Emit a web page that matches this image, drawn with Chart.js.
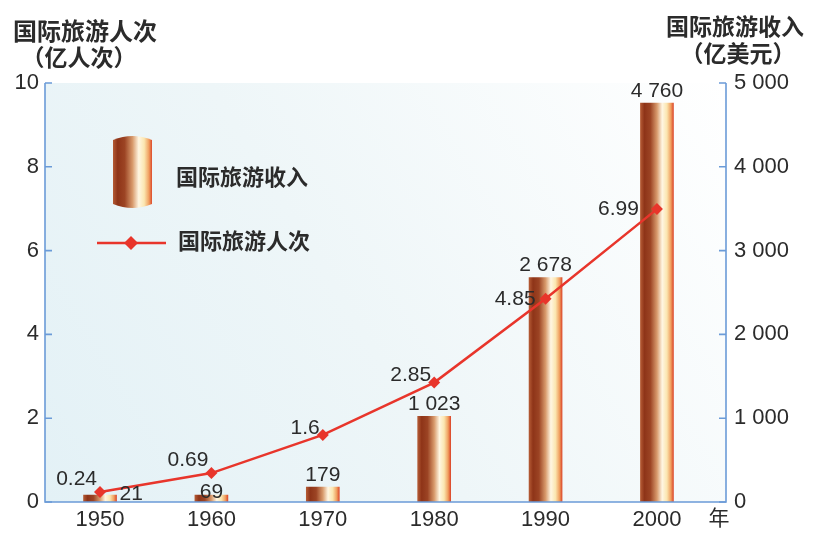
<!DOCTYPE html>
<html>
<head>
<meta charset="utf-8">
<script src="https://cdn.jsdelivr.net/npm/chart.js@4/dist/chart.umd.min.js"></script>
<style>
  html, body { margin: 0; padding: 0; background: #ffffff; }
  #wrap { width: 815px; height: 534px; position: relative; }
</style>
</head>
<body>
<div id="wrap"><canvas id="c" width="815" height="534"></canvas></div>
<script>
// ---- data ----
const years = [1950, 1960, 1970, 1980, 1990, 2000];
const revenue = [21, 69, 179, 1023, 2678, 4760];          // 亿美元
const revenueLabels = ['21', '69', '179', '1 023', '2 678', '4 760'];
const visitors = [0.24, 0.69, 1.6, 2.85, 4.85, 6.99];      // 亿人次
const visitorLabels = ['0.24', '0.69', '1.6', '2.85', '4.85', '6.99'];
const leftTicks = [0, 2, 4, 6, 8, 10];
const rightTicks = [0, 1000, 2000, 3000, 4000, 5000];
const rightTickLabels = ['0', '1 000', '2 000', '3 000', '4 000', '5 000'];
const leftTitle = ['国际旅游人次', '（亿人次）'];
const rightTitle = ['国际旅游收入', '（亿美元）'];
const seriesNames = ['国际旅游收入', '国际旅游人次'];
const xUnit = '年';

const AXIS = '#6b9bd8';
const TXT = '#2b2b2b';
const NUMFONT = '"Liberation Sans", Arial, sans-serif';
const CJKFONT = '"Noto Sans CJK SC", sans-serif';

function copperGradient(ctx, x0, x1) {
  const g = ctx.createLinearGradient(x0, 0, x1, 0);
  g.addColorStop(0.00, '#b45a34');
  g.addColorStop(0.12, '#8e3418');
  g.addColorStop(0.30, '#9c4424');
  g.addColorStop(0.50, '#d89a6c');
  g.addColorStop(0.66, '#fff6e2');
  g.addColorStop(0.80, '#fbe6b0');
  g.addColorStop(0.92, '#f0a060');
  g.addColorStop(1.00, '#dc4a2c');
  return g;
}

const decor = {
  id: 'decor',
  beforeDraw(chart) {
    const { ctx, chartArea: a } = chart;
    ctx.save();
    const g = ctx.createLinearGradient(a.left, a.bottom, a.right, a.top);
    g.addColorStop(0, '#e3f1f6');
    g.addColorStop(0.45, '#eef6f8');
    g.addColorStop(1, '#ffffff');
    ctx.fillStyle = g;
    ctx.fillRect(a.left, a.top, a.right - a.left, a.bottom - a.top);
    ctx.restore();
  },
  afterDraw(chart) {
    const { ctx, chartArea: a, scales } = chart;
    ctx.save();
    // axis lines (left, bottom, right)
    ctx.strokeStyle = AXIS;
    ctx.lineWidth = 1.6;
    ctx.beginPath();
    ctx.moveTo(a.left, a.top); ctx.lineTo(a.left, a.bottom);
    ctx.lineTo(a.right, a.bottom); ctx.lineTo(a.right, a.top);
    ctx.stroke();
    // inward tick marks
    ctx.beginPath();
    leftTicks.forEach(v => {
      const y = scales.y.getPixelForValue(v);
      ctx.moveTo(a.left, y); ctx.lineTo(a.left + 7, y);
    });
    rightTicks.forEach(v => {
      const y = scales.y1.getPixelForValue(v);
      ctx.moveTo(a.right, y); ctx.lineTo(a.right - 7, y);
    });
    ctx.stroke();

    // axis titles
    ctx.fillStyle = TXT;
    ctx.font = 'bold 24px ' + CJKFONT;
    ctx.textAlign = 'center';
    ctx.textBaseline = 'middle';
    ctx.fillText(leftTitle[0], 85, 31);
    ctx.fillStyle = TXT;
    ctx.font = 'bold 23px ' + CJKFONT;
    ctx.fillText(leftTitle[1], 79, 57);
    ctx.fillText(rightTitle[0], 735, 26);
    ctx.fillText(rightTitle[1], 738, 53);
    // x unit
    ctx.font = '21px ' + CJKFONT;
    ctx.fillText(xUnit, 719, 517);

    // legend
    const lx0 = 113, lx1 = 152;
    ctx.fillStyle = copperGradient(ctx, lx0, lx1);
    ctx.beginPath();
    ctx.moveTo(lx0, 140);
    ctx.lineTo(lx0, 204);
    ctx.quadraticCurveTo((lx0 + lx1) / 2, 212, lx1, 204);
    ctx.lineTo(lx1, 140);
    ctx.quadraticCurveTo((lx0 + lx1) / 2, 132, lx0, 140);
    ctx.fill();
    ctx.fillStyle = TXT;
    ctx.font = 'bold 22px ' + CJKFONT;
    ctx.textAlign = 'left';
    ctx.fillText(seriesNames[0], 176, 177);
    ctx.strokeStyle = '#e8352b';
    ctx.lineWidth = 2.5;
    ctx.beginPath(); ctx.moveTo(97, 243); ctx.lineTo(166, 243); ctx.stroke();
    ctx.fillStyle = '#e8352b';
    ctx.beginPath();
    ctx.moveTo(131, 236); ctx.lineTo(138, 243); ctx.lineTo(131, 250); ctx.lineTo(124, 243);
    ctx.closePath(); ctx.fill();
    ctx.fillStyle = TXT;
    ctx.fillText(seriesNames[1], 178, 241);

    // value labels
    ctx.font = '21px ' + NUMFONT;
    const barMeta = chart.getDatasetMeta(0);
    barMeta.data.forEach((el, i) => {
      ctx.textBaseline = 'middle';
      if (i === 0) {
        ctx.textAlign = 'left';
        ctx.fillText(revenueLabels[i], el.x + el.width / 2 + 3, el.y - 1);
      } else if (i === 1) {
        ctx.textAlign = 'center';
        ctx.fillText(revenueLabels[i], el.x, el.y - 3);
      } else {
        ctx.textAlign = 'center';
        ctx.fillText(revenueLabels[i], el.x, el.y - 12);
      }
    });
    const lineMeta = chart.getDatasetMeta(1);
    lineMeta.data.forEach((el, i) => {
      ctx.textAlign = 'right'; ctx.textBaseline = 'middle';
      const dy = i < 2 ? -13 : (i < 4 ? -7 : 0);
      const dx = i < 4 ? -3 : -10;
      ctx.fillText(visitorLabels[i], el.x + dx + (i === 5 ? -8 : 0), el.y + dy);
    });
    ctx.restore();
  }
};

new Chart(document.getElementById('c'), {
  data: {
    datasets: [
      {
        type: 'bar',
        label: seriesNames[0],
        data: years.map((y, i) => ({ x: y, y: revenue[i] })),
        yAxisID: 'y1',
        order: 1,
        barThickness: 33,
        minBarLength: 7,
        borderWidth: 0,
        backgroundColor(c) {
          const chart = c.chart;
          if (!chart.chartArea || !chart.scales.x || c.raw === undefined) return '#c0704a';
          const xp = chart.scales.x.getPixelForValue(c.raw.x);
          return copperGradient(chart.ctx, xp - 16.5, xp + 16.5);
        }
      },
      {
        type: 'line',
        label: seriesNames[1],
        data: years.map((y, i) => ({ x: y, y: visitors[i] })),
        yAxisID: 'y',
        order: 0,
        borderColor: '#e8352b',
        borderWidth: 2.5,
        pointStyle: 'rectRot',
        pointRadius: 6,
        pointBackgroundColor: '#e8352b',
        pointBorderWidth: 0,
        tension: 0
      }
    ]
  },
  options: {
    responsive: false,
    animation: false,
    layout: { padding: { top: 83, left: 0, right: 0, bottom: 0 } },
    plugins: { legend: { display: false }, tooltip: { enabled: false } },
    scales: {
      x: {
        type: 'linear',
        offset: false,
        min: 1945.06,
        max: 2006.2,
        afterBuildTicks(s) { s.ticks = years.map(v => ({ value: v })); },
        grid: { display: false, drawTicks: false, offset: false },
        border: { display: false },
        ticks: {
          callback: v => String(v),
          color: TXT,
          font: { family: NUMFONT, size: 22 },
          padding: 5,
          autoSkip: false,
          maxRotation: 0
        },
        afterFit(s) { s.height = 32; }
      },
      y: {
        position: 'left',
        min: 0, max: 10,
        afterBuildTicks(s) { s.ticks = leftTicks.map(v => ({ value: v })); },
        grid: { display: false, drawTicks: false },
        border: { display: false },
        ticks: {
          color: TXT,
          font: { family: NUMFONT, size: 22 },
          padding: 6
        },
        afterFit(s) { s.width = 45; }
      },
      y1: {
        position: 'right',
        min: 0, max: 5000,
        afterBuildTicks(s) { s.ticks = rightTicks.map(v => ({ value: v })); },
        grid: { display: false, drawTicks: false },
        border: { display: false },
        ticks: {
          callback: (v) => rightTickLabels[rightTicks.indexOf(v)],
          color: TXT,
          font: { family: NUMFONT, size: 22 },
          padding: 8
        },
        afterFit(s) { s.width = 89; }
      }
    }
  },
  plugins: [decor]
});
</script>
</body>
</html>
